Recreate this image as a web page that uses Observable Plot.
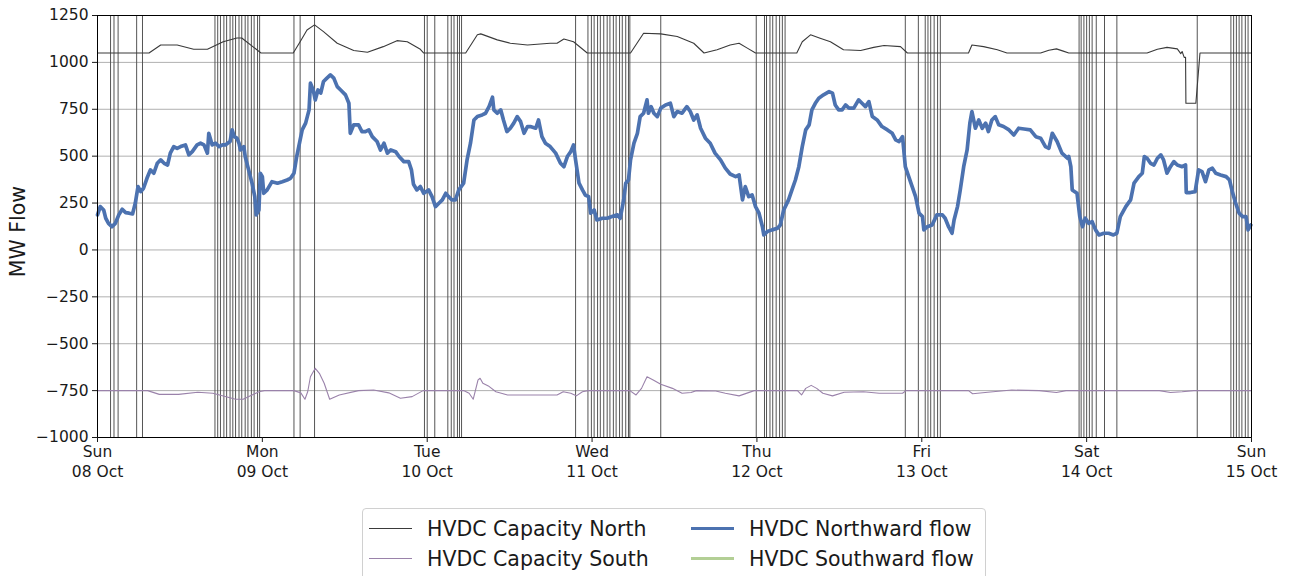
<!DOCTYPE html>
<html>
<head>
<meta charset="utf-8">
<script src="https://cdn.jsdelivr.net/npm/d3@7"></script>
<script src="https://cdn.jsdelivr.net/npm/@observablehq/plot@0.6"></script>
<style>
  body { margin: 0; background: #fff; font-family: "DejaVu Sans", sans-serif; }
  #wrap { position: relative; width: 1291px; height: 576px; overflow: hidden; }
  #legend { position: absolute; left: 362px; top: 508px; width: 624px; height: 90px;
            border: 1px solid #d0d0d0; border-radius: 4px; background: #fff; box-sizing: border-box; }
  .item { position: absolute; font-size: 20.5px; color: #1a1a1a; white-space: nowrap; }
  .swatch { position: absolute; height: 0; }
</style>
</head>
<body>
<div id="wrap"><div id="chart"></div><div id="legend"></div></div>
<script>
// ---- Data (hours since Sun 08 Oct 2023 00:00, MW) ----
const startDate = "2023-10-08T00:00:00Z";
const dayTickHours = [0, 24, 48, 72, 96, 120, 144, 168];
const yTicks = [-1000, -750, -500, -250, 0, 250, 500, 750, 1000, 1250];

const seriesNames = ["HVDC Capacity North", "HVDC Capacity South", "HVDC Northward flow", "HVDC Southward flow"];
const seriesColors = ["#3a3a3a", "#9a82aa", "#4c72b0", "#b3cf95"];

const northwardFlow = [
  [0.0,187],[0.4,231],[0.9,213],[1.2,169],[1.6,142],[2.1,124],[2.6,142],[3.1,187],[3.6,217],[4.1,199],
  [4.6,196],[5.1,192],[5.5,249],[5.9,338],[6.3,311],[6.7,329],[7.2,382],[7.7,427],[8.2,409],[8.7,462],
  [9.2,480],[9.7,462],[10.2,453],[10.6,516],[11.1,551],[11.6,542],[12.1,551],[12.8,560],[13.3,507],[13.8,524],
  [14.5,560],[15.0,569],[15.5,560],[16.0,516],[16.2,622],[16.7,560],[17.2,569],[17.7,551],[18.2,560],[18.6,560],
  [19.3,578],[19.6,640],[19.9,604],[20.3,596],[20.6,569],[20.8,533],[21.3,551],[21.5,498],[22.0,427],[22.5,356],
  [22.9,284],[23.1,187],[23.5,213],[23.7,409],[24.0,391],[24.2,302],[24.7,320],[25.4,364],[26.2,356],[26.9,364],
  [27.6,373],[28.1,382],[28.6,409],[29.0,498],[29.3,551],[29.8,640],[30.3,676],[30.8,747],[31.0,889],[31.4,853],
  [31.7,800],[32.1,853],[32.5,836],[32.9,898],[33.4,916],[33.9,933],[34.4,916],[34.9,871],[35.4,853],[36.1,827],
  [36.6,782],[36.8,622],[37.3,667],[38.0,667],[38.5,631],[39.0,631],[39.5,640],[40.0,604],[40.7,578],[41.2,533],
  [41.7,569],[42.2,516],[42.7,533],[43.4,524],[43.9,498],[44.6,471],[45.3,471],[45.7,427],[46.0,350],[46.5,320],
  [47.0,338],[47.5,302],[48.2,320],[48.7,284],[49.2,231],[49.7,249],[50.2,267],[50.7,302],[51.1,284],[51.6,267],
  [52.1,267],[52.6,320],[53.3,356],[53.8,480],[54.3,569],[54.8,693],[55.3,711],[56.0,720],[56.5,729],[57.0,764],
  [57.5,814],[57.7,747],[58.2,729],[58.7,747],[59.1,693],[59.6,631],[60.1,649],[60.6,676],[61.1,711],[61.6,684],
  [62.1,622],[62.6,658],[63.0,658],[63.8,649],[64.2,693],[64.7,604],[65.2,569],[65.9,551],[66.7,516],[67.4,462],
  [67.9,444],[68.4,498],[68.9,524],[69.3,560],[69.6,480],[70.1,356],[70.6,320],[71.0,293],[71.5,284],[71.8,196],
  [72.3,213],[72.7,160],[73.5,169],[74.2,169],[74.9,178],[75.7,187],[76.1,169],[76.6,267],[76.9,356],[77.3,373],
  [77.6,480],[78.1,569],[78.6,622],[79.0,711],[79.5,729],[80.0,800],[80.2,729],[80.6,764],[81.0,729],[81.5,711],
  [82.0,756],[82.7,773],[83.4,782],[83.9,711],[84.4,738],[85.1,729],[85.8,764],[86.3,738],[86.8,693],[87.3,720],
  [87.8,649],[88.5,596],[89.2,569],[89.9,516],[90.7,480],[91.4,436],[92.1,405],[92.9,391],[93.4,400],[93.9,267],
  [94.3,338],[94.8,284],[95.3,293],[95.8,231],[96.3,196],[96.8,124],[97.0,80],[97.5,98],[98.2,107],[99.0,116],
  [99.4,133],[99.9,213],[100.6,267],[101.1,320],[101.6,373],[102.1,444],[102.6,551],[103.1,640],[103.6,667],[104.0,747],
  [104.5,782],[105.0,809],[105.7,827],[106.5,844],[107.0,836],[107.4,773],[107.9,747],[108.4,747],[108.9,773],[109.4,756],
  [110.1,756],[110.8,800],[111.3,782],[111.8,764],[112.3,791],[112.8,711],[113.5,693],[114.2,658],[115.0,640],[115.7,622],
  [116.2,587],[116.7,578],[117.2,604],[117.6,444],[118.1,391],[118.6,338],[119.1,284],[119.6,196],[120.1,178],[120.3,107],
  [120.8,124],[121.5,133],[122.2,187],[123.0,187],[123.4,169],[123.9,124],[124.4,89],[124.7,160],[125.2,231],[125.6,320],
  [126.1,444],[126.6,533],[127.0,676],[127.3,738],[127.8,649],[128.3,693],[128.8,649],[129.3,676],[129.7,631],[130.2,693],
  [130.7,711],[131.2,667],[131.9,658],[132.7,640],[133.4,613],[134.1,649],[134.9,645],[135.8,640],[136.6,604],[137.3,596],
  [138.0,551],[138.5,542],[139.0,622],[139.7,578],[140.4,516],[141.2,489],[141.4,498],[141.7,444],[141.9,320],[142.6,302],
  [143.0,178],[143.4,124],[143.8,169],[144.3,142],[144.8,151],[145.3,107],[145.8,80],[146.5,89],[147.2,89],[147.9,80],
  [148.4,89],[148.9,178],[149.7,231],[150.4,267],[150.9,356],[151.6,391],[152.1,409],[152.4,498],[152.8,489],[153.3,462],
  [153.8,453],[154.3,489],[154.8,507],[155.2,480],[155.7,409],[156.2,444],[156.7,471],[157.2,453],[157.9,444],[158.4,453],
  [158.5,306],[159.1,306],[159.8,311],[160.3,427],[160.8,418],[161.3,364],[161.8,427],[162.3,436],[162.8,409],[163.5,400],
  [164.3,391],[164.8,373],[165.2,311],[165.7,249],[166.2,196],[166.7,178],[167.2,178],[167.5,107],[167.9,133]
];

const capacityNorth = [
  [0,1050],[7.5,1050],[9.2,1093],[11.6,1093],[14.0,1070],[16.0,1070],[18.3,1110],[20.3,1130],[21.0,1130],[23.8,1050],
  [28.5,1050],[29.5,1110],[30.5,1173],[31.6,1200],[32.9,1164],[34.9,1102],[37.3,1063],[39.3,1054],[41.6,1084],[43.6,1116],
  [45.1,1110],[47.0,1070],[47.5,1050],[53.6,1050],[55.3,1147],[55.8,1152],[58.2,1120],[60.1,1102],[62.6,1093],[65.9,1102],
  [66.9,1102],[67.9,1125],[69.3,1110],[71.3,1050],[77.6,1050],[79.5,1155],[82.0,1152],[84.4,1138],[86.8,1102],[88.3,1050],
  [90.2,1067],[92.1,1093],[93.4,1102],[94.6,1076],[95.8,1050],[101.8,1050],[102.6,1110],[103.8,1147],[105.2,1129],[106.7,1110],
  [108.6,1067],[111.1,1063],[113.0,1080],[114.5,1090],[116.9,1084],[117.9,1050],[126.8,1050],[127.3,1093],[129.0,1084],[131.0,1067],
  [132.4,1050],[137.3,1050],[138.5,1065],[139.6,1072],[140.6,1060],[141.4,1050],[152.8,1050],[154.3,1070],[155.7,1080],[157.2,1072],
  [157.7,1047],[157.9,1058],[158.2,1027],[158.4,1027],[158.45,782],[159.9,782],[160.5,1050],[168,1050]
];

const capacitySouth = [
  [0,-750],[7.3,-750],[9.0,-770],[11.8,-770],[14.6,-759],[16.8,-764],[20.1,-796],[21.2,-796],[23.5,-756],[24.3,-750],
  [28.6,-750],[29.6,-762],[30.2,-796],[30.6,-756],[31.0,-676],[31.7,-631],[32.3,-658],[33.0,-711],[33.8,-796],[35.2,-773],
  [38.0,-750],[40.2,-747],[42.4,-762],[44.1,-791],[45.8,-782],[47.4,-750],[53.3,-750],[54.1,-764],[54.7,-796],[55.4,-693],
  [55.7,-684],[56.1,-711],[56.9,-725],[58.0,-756],[59.7,-773],[63.0,-773],[66.9,-773],[67.8,-756],[68.9,-764],[69.7,-778],
  [70.6,-756],[71.4,-750],[77.5,-750],[78.4,-773],[79.2,-738],[80.0,-676],[80.9,-693],[82.0,-716],[83.7,-738],[85.1,-764],
  [86.4,-760],[87.2,-750],[90.0,-752],[91.4,-764],[93.4,-778],[95.6,-750],[101.9,-750],[102.5,-773],[103.1,-738],[103.9,-722],
  [104.7,-738],[105.6,-764],[107.0,-778],[108.7,-759],[111.5,-756],[113.8,-764],[117.2,-764],[117.7,-750],[126.8,-750],[127.4,-767],
  [129.6,-759],[133.1,-747],[137.1,-750],[139.6,-760],[141.0,-750],[154.6,-750],[156.2,-760],[157.9,-756],[159.6,-750],[168,-750]
];

const eventHours = [
  1.9, 2.4, 3.0, 5.7, 6.55,
  17.1, 17.5, 17.9, 18.4, 18.8, 19.3, 19.7, 20.1, 20.6, 21.0, 21.5, 21.9, 22.4, 22.8, 23.3, 23.6,
  28.6, 29.5, 31.6,
  47.6, 48.0, 49.1, 51.0, 51.5, 51.9, 52.4, 52.7, 53.0,
  69.6,
  71.4, 71.9, 72.3, 72.8, 73.2, 73.7, 74.2, 74.6, 75.1, 75.5, 76.0, 76.4, 76.9, 77.3, 77.5,
  82.0,
  95.9, 97.1, 97.4, 97.9, 98.3, 98.8, 99.3, 99.7, 100.1,
  117.6,
  119.5, 120.5, 120.9, 121.3, 121.8, 122.3, 122.7,
  142.9, 143.2, 143.6, 144.0, 144.4, 144.8, 145.4, 146.6, 148.4,
  160.1,
  165.0, 165.4, 165.8, 166.2, 166.6, 167.1, 167.5
];

// ---- Build ----
const t0 = new Date(startDate).getTime();
const toDate = h => new Date(t0 + h * 3600e3);
const toRows = arr => arr.map(([h, v]) => ({t: toDate(h), v}));

const chart = Plot.plot({
  width: 1291,
  height: 500,
  marginLeft: 97,
  marginRight: 40,
  marginTop: 15,
  marginBottom: 63,
  style: {fontFamily: "DejaVu Sans, sans-serif", fontSize: "15.5px", color: "#1a1a1a", background: "#fff"},
  x: {type: "utc", domain: [toDate(0), toDate(168)]},
  y: {domain: [-1000, 1250]},
  marks: [
    Plot.gridY(yTicks, {stroke: "#b0b0b0", strokeOpacity: 1, strokeWidth: 1}),
    Plot.ruleX(eventHours.map(toDate), {stroke: "#555", strokeWidth: 1}),
    Plot.line(toRows(capacityNorth), {x: "t", y: "v", stroke: seriesColors[0], strokeWidth: 1.1}),
    Plot.line(toRows(capacitySouth), {x: "t", y: "v", stroke: seriesColors[1], strokeWidth: 1.1}),
    Plot.line(toRows(northwardFlow), {x: "t", y: "v", stroke: seriesColors[2], strokeWidth: 3.7}),
    Plot.frame({stroke: "#000", strokeWidth: 1}),
    Plot.axisY(yTicks, {tickSize: 5, tickPadding: 4, label: null, fontSize: 15.5, tickFormat: d3.format("d")}),
    Plot.axisX(dayTickHours.map(toDate), {tickSize: 5, tickPadding: 1, label: null, fontSize: 15.5,
      tickFormat: d3.utcFormat("%a\n%d %b"), lineHeight: 1.27}),
    Plot.text(["MW Flow"], {frameAnchor: "left", dx: -79, dy: 5, rotate: -90, textAnchor: "middle",
      fontSize: 20.5, fill: "#1a1a1a"})
  ]
});
document.getElementById("chart").appendChild(chart);

// ---- Legend ----
const legend = document.getElementById("legend");
const widths = [1.1, 1.1, 3.5, 3.5];
const pos = [[6, 20], [6, 50], [328, 20], [328, 50]];
seriesNames.forEach((name, i) => {
  const [lx, ly] = pos[i];
  const sw = document.createElement("div");
  sw.className = "swatch";
  sw.style.left = lx + "px";
  sw.style.width = "43px";
  sw.style.top = (ly - widths[i] / 2) + "px";
  sw.style.borderTop = widths[i] + "px solid " + seriesColors[i];
  legend.appendChild(sw);
  const tx = document.createElement("div");
  tx.className = "item";
  tx.textContent = name;
  tx.style.left = (lx + 58) + "px";
  tx.style.top = (ly - 13) + "px";
  tx.style.lineHeight = "26px";
  legend.appendChild(tx);
});
</script>
</body>
</html>
